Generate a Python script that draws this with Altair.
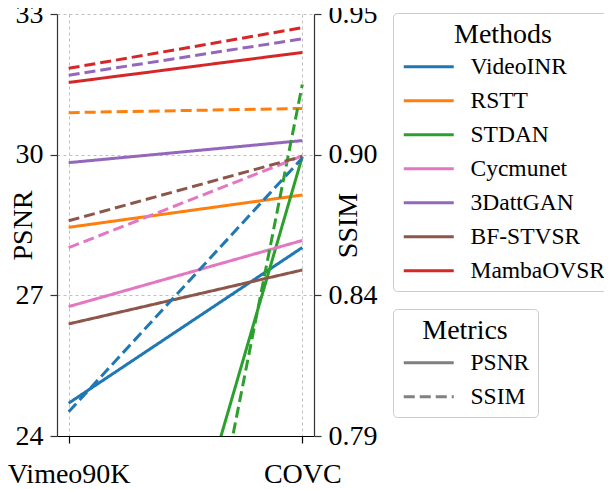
import altair as alt
import pandas as pd

methods = ["VideoINR", "RSTT", "STDAN", "Cycmunet", "3DattGAN", "BF-STVSR", "MambaOVSR"]
datasets = ["Vimeo90K", "COVC"]
metrics = ["PSNR", "SSIM"]
psnr_vimeo = [24.70, 28.45, 12.83, 26.76, 29.83, 26.39, 31.54]
psnr_covc = [28.02, 29.14, 29.96, 28.17, 30.30, 27.54, 32.18]
ssim_vimeo = [0.7992, 0.9126, 0.4756, 0.8614, 0.9268, 0.8716, 0.9294]
ssim_covc = [0.8954, 0.9142, 0.9233, 0.8962, 0.9406, 0.8960, 0.9448]
colors = ["#1f77b4", "#ff7f0e", "#2ca02c", "#e377c2", "#9467bd", "#8c564b", "#d62728"]
psnr_ticks = [24, 27, 30, 33]
ssim_ticks = [0.79, 0.843333, 0.896667, 0.95]

rows_p, rows_s = [], []
for i, m in enumerate(methods):
    rows_p.append({"method": m, "dataset": datasets[0], "metric": "PSNR", "value": psnr_vimeo[i]})
    rows_p.append({"method": m, "dataset": datasets[1], "metric": "PSNR", "value": psnr_covc[i]})
    rows_s.append({"method": m, "dataset": datasets[0], "metric": "SSIM", "value": ssim_vimeo[i]})
    rows_s.append({"method": m, "dataset": datasets[1], "metric": "SSIM", "value": ssim_covc[i]})
df_p = pd.DataFrame(rows_p)
df_s = pd.DataFrame(rows_s)

FONT = "Liberation Serif, Times New Roman, serif"
sym_path = "M-2.5,0L2.5,0"

x_enc = alt.X(
    "dataset:N", sort=datasets,
    scale=alt.Scale(type="point", padding=0.05, domain=datasets),
    axis=alt.Axis(title=None, labelFontSize=28, labelAngle=0, tickSize=7, labelPadding=17,
                  labelFont=FONT,
                  domainColor="black", tickColor="black", labelColor="black",
                  grid=True, gridDash=[3, 3], gridColor="#b0b0b0", gridWidth=0.8,
                  domainWidth=1.2, tickWidth=1.2),
)

legend_common = dict(
    orient="none", legendX=336,
    symbolType=sym_path, symbolSize=400, symbolStrokeWidth=3,
    labelFontSize=23.5, titleFontSize=28, titleFontWeight="normal",
    labelFont=FONT, titleFont=FONT, labelColor="black", titleColor="black",
    titleAnchor="middle", padding=8, rowPadding=9, labelOffset=30,
    symbolOffset=16, strokeColor="#cccccc", cornerRadius=4,
    fillColor="white", titlePadding=6,
)

color_enc = alt.Color(
    "method:N", sort=methods,
    scale=alt.Scale(domain=methods, range=colors),
    legend=alt.Legend(title="Methods", legendY=-1, **legend_common),
)

dash_enc = alt.StrokeDash(
    "metric:N", sort=metrics,
    scale=alt.Scale(domain=metrics, range=[[1, 0], [11, 5]]),
    legend=alt.Legend(title="Metrics", legendY=295, symbolStrokeColor="#808080", **legend_common),
)

psnr = alt.Chart(df_p).mark_line(strokeWidth=3, clip=True).encode(
    x=x_enc,
    y=alt.Y("value:Q", scale=alt.Scale(domain=[24, 33], nice=False, zero=False),
            axis=alt.Axis(title="PSNR", orient="left", values=psnr_ticks, format="d",
                          labelFont=FONT, titleFont=FONT,
                          labelFontSize=28, titleFontSize=28, titleFontWeight="normal",
                          tickSize=7, labelPadding=7, domainColor="#333333",
                          tickColor="#333333", labelColor="black", titleColor="black",
                          grid=True, gridDash=[3, 3], gridColor="#b0b0b0", gridWidth=0.8,
                          titleAngle=270, titleBaseline="bottom", titleX=-20, titleY=211,
                          domainWidth=1.2, tickWidth=1.2)),
    color=color_enc,
    strokeDash=dash_enc,
)

ssim = alt.Chart(df_s).mark_line(strokeWidth=3, clip=True).encode(
    x=x_enc,
    y=alt.Y("value:Q", scale=alt.Scale(domain=[0.79, 0.95], nice=False, zero=False),
            axis=alt.Axis(title="SSIM", orient="right", values=ssim_ticks, format=".2f",
                          labelFont=FONT, titleFont=FONT,
                          labelFontSize=28, titleFontSize=28, titleFontWeight="normal",
                          tickSize=7, labelPadding=7, domainColor="#333333",
                          tickColor="#333333", labelColor="black", titleColor="black",
                          grid=False, titleAngle=270, titleBaseline="bottom",
                          titleX=48, titleY=211, domainWidth=1.2, tickWidth=1.2)),
    color=color_enc,
    strokeDash=dash_enc,
)

chart = alt.layer(psnr, ssim).resolve_scale(y="independent").properties(
    width=257, height=422,
    autosize=alt.AutoSizeParams(type="none"),
    padding={"left": 49, "top": 6, "right": 290, "bottom": 60},
).configure(font=FONT).configure_view(stroke=None)

chart.save("out.html", embed_options={"renderer": "svg", "actions": False})
